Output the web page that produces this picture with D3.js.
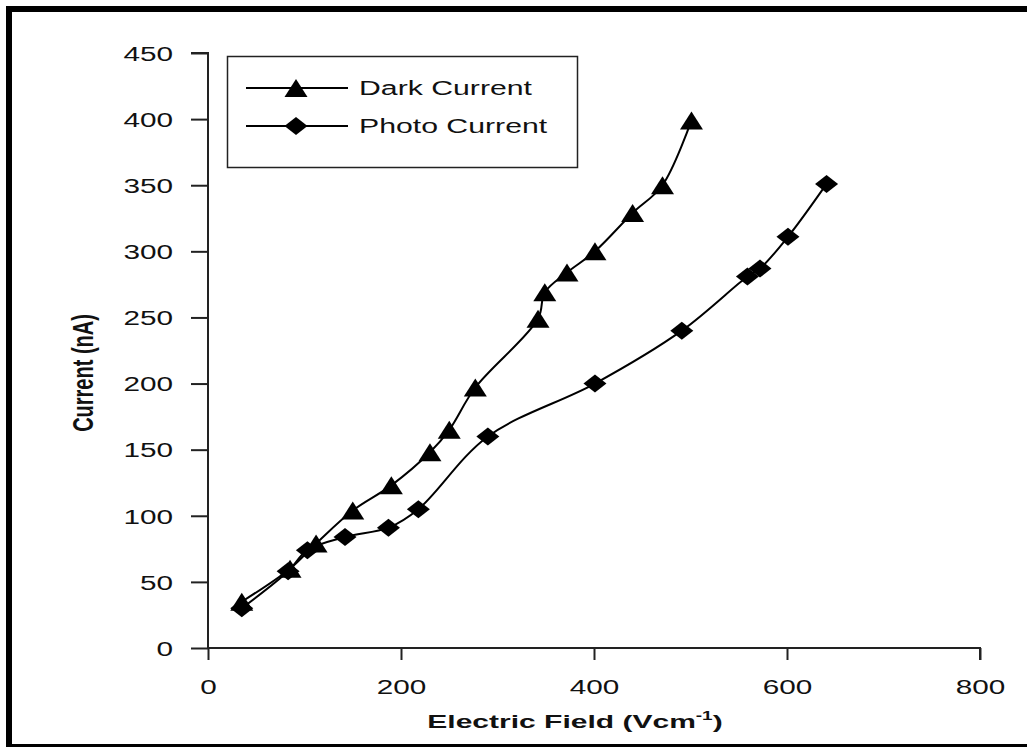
<!DOCTYPE html>
<html>
<head>
<meta charset="utf-8">
<script src="https://cdn.jsdelivr.net/npm/d3@7"></script>
<style>
  html, body { margin: 0; padding: 0; background: #fff; }
  svg { display: block; }
  text { font-family: "Liberation Sans", Arial, sans-serif; fill: #111; }
</style>
</head>
<body>
<svg id="chart" width="1027" height="747"></svg>
<script>
// Measured current versus applied electric field
const darkField   = [35, 85, 112, 150, 190, 230, 250, 277, 342, 349, 372, 401, 440, 471, 501];
const darkCurrent = [35, 60, 79, 104, 123, 148, 165, 197, 249, 269, 284, 300, 329, 350, 399];

const photoField   = [35, 83, 103, 142, 187, 218, 290, 401, 491, 559, 572, 601, 641];
const photoCurrent = [30, 58, 74, 84, 91, 105, 160, 200, 240, 281, 287, 311, 351];

const xTicks = [0, 200, 400, 600, 800];
const yTicks = [0, 50, 100, 150, 200, 250, 300, 350, 400, 450];

const seriesNames = ["Dark Current", "Photo Current"];

const svg = d3.select("#chart");
const W = 1027, H = 747;

// outer frame
svg.append("rect").attr("x", 0).attr("y", 0).attr("width", W).attr("height", H).attr("fill", "#fff");
svg.append("rect").attr("x", 6).attr("y", 6).attr("width", 6).attr("height", H - 6).attr("fill", "#000");
svg.append("rect").attr("x", 6).attr("y", 6).attr("width", W - 6).attr("height", 6).attr("fill", "#000");
svg.append("rect").attr("x", 6).attr("y", 744).attr("width", W - 6).attr("height", 3).attr("fill", "#000");

const x = d3.scaleLinear().domain([0, 800]).range([208, 980]);
const y = d3.scaleLinear().domain([0, 450]).range([648, 53]);

const SX = 1.45; // horizontal stretch of lettering
const axisColor = "#222";

// y axis
const yAxis = d3.axisLeft(y).tickValues(yTicks).tickSize(17).tickFormat(d3.format("d"));
const gy = svg.append("g").attr("transform", `translate(${x(0)},0)`).call(yAxis);
gy.select(".domain").attr("stroke", axisColor).attr("stroke-width", 2).attr("d", `M-17,${y(450)}H0V${y(0)}`);
gy.selectAll(".tick line").attr("stroke", axisColor).attr("stroke-width", 2);
gy.selectAll(".tick text")
  .attr("x", null).attr("dy", null)
  .attr("font-size", 20.5)
  .attr("text-anchor", "end")
  .attr("dominant-baseline", "central")
  .attr("transform", `translate(-35,0) scale(${SX},1)`)
  .style("font-family", '"Liberation Sans", Arial, sans-serif')
  .attr("fill", "#111");

// x axis
const xAxis = d3.axisBottom(x).tickValues(xTicks).tickSize(12).tickFormat(d3.format("d"));
const gx = svg.append("g").attr("transform", `translate(0,${y(0)})`).call(xAxis);
gx.select(".domain").attr("stroke", axisColor).attr("stroke-width", 2).attr("d", `M${x(0)},0H${x(800)}V12`);
gx.selectAll(".tick line").attr("stroke", axisColor).attr("stroke-width", 2);
gx.selectAll(".tick text")
  .attr("y", null).attr("dy", null)
  .attr("font-size", 20.5)
  .attr("text-anchor", "middle")
  .attr("transform", `translate(0,46) scale(${SX},1)`)
  .style("font-family", '"Liberation Sans", Arial, sans-serif')
  .attr("fill", "#111");

// axis titles
const xt = svg.append("text")
  .attr("transform", `translate(575,728) scale(1.58,1)`)
  .attr("text-anchor", "middle")
  .attr("font-size", 19)
  .attr("font-weight", "bold");
xt.append("tspan").text("Electric Field (Vcm");
xt.append("tspan").attr("font-size", 12).attr("dy", -8).text("-1");
xt.append("tspan").attr("dy", 8).text(")");

svg.append("text")
  .attr("transform", `translate(93,373) scale(${SX},1) rotate(-90)`)
  .attr("text-anchor", "middle")
  .attr("font-size", 20)
  .attr("font-weight", "bold")
  .text("Current (nA)");

// markers
const TW = 23, TH = 18;
function triangle(g) {
  g.append("path").attr("d", `M0,${-TH / 2}L${TW / 2},${TH / 2}L${-TW / 2},${TH / 2}Z`).attr("fill", "#000");
}
function diamond(g) {
  g.append("path").attr("d", `M0,${-TH / 2}L${TW / 2},0L0,${TH / 2}L${-TW / 2},0Z`).attr("fill", "#000");
}

const line = d3.line()
  .x(d => x(d[0]))
  .y(d => y(d[1]))
  .curve(d3.curveCatmullRom.alpha(0.5));

const series = [
  { name: seriesNames[0], pts: d3.zip(darkField, darkCurrent), marker: triangle },
  { name: seriesNames[1], pts: d3.zip(photoField, photoCurrent), marker: diamond }
];

series.forEach(s => {
  svg.append("path")
    .attr("d", line(s.pts))
    .attr("fill", "none")
    .attr("stroke", "#000")
    .attr("stroke-width", 2);
  s.pts.forEach(p => {
    const g = svg.append("g").attr("transform", `translate(${x(p[0])},${y(p[1])})`);
    s.marker(g);
  });
});

// legend
svg.append("rect")
  .attr("x", 227.5).attr("y", 56.5).attr("width", 350).attr("height", 111)
  .attr("fill", "#fff").attr("stroke", "#222").attr("stroke-width", 1.5);

series.forEach((s, i) => {
  const cy = 88 + i * 38;
  svg.append("line")
    .attr("x1", 246).attr("x2", 348).attr("y1", cy).attr("y2", cy)
    .attr("stroke", "#000").attr("stroke-width", 2);
  const g = svg.append("g").attr("transform", `translate(296,${cy})`);
  s.marker(g);
  svg.append("text")
    .attr("transform", `translate(359,${cy}) scale(1.44,1)`)
    .attr("dominant-baseline", "central")
    .attr("font-size", 21)
    .text(s.name);
});
</script>
</body>
</html>
